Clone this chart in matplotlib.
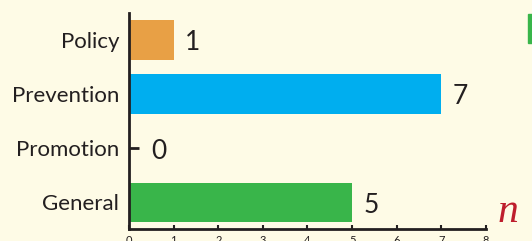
import matplotlib
matplotlib.use("Agg")
import matplotlib.pyplot as plt
from matplotlib.lines import TICKRIGHT

categories = ["General", "Promotion", "Prevention", "Policy"]
counts = [5, 0, 7, 1]
bar_colors = ["#39B54A", "#1B3F6B", "#00AEEF", "#E8A045"]
x_ticks = [0, 1, 2, 3, 4, 5, 6, 7, 8]

BG = "#FEFBE6"
INK = "#231F20"

plt.rcParams["font.family"] = ["Lato", "DejaVu Sans"]

fig = plt.figure(figsize=(5.32, 2.41), dpi=100)
fig.patch.set_facecolor(BG)
ax = fig.add_axes([0.2425, 0.0498, 0.671, 0.8962])
ax.set_facecolor(BG)

ypos = list(range(len(categories)))
ax.barh(ypos, counts, height=0.73, color=bar_colors, zorder=2)

for y, v in zip(ypos, counts):
    off = 0.5 if v == 0 else 0.25
    ax.text(v + off, y - 0.05, str(v), ha="left", va="center", fontsize=19, color=INK)
    if v == 0:
        ax.plot(v, y, marker=TICKRIGHT, markersize=7, markeredgewidth=2, color=INK)

ax.set_xlim(0, 8)
ax.set_ylim(-0.49, 3.5)
ax.set_xticks(x_ticks)
ax.set_xticklabels([str(t) for t in x_ticks], fontsize=8, color=INK)
ax.set_yticks(ypos)
ax.set_yticklabels(categories, fontsize=16, color=INK)

for s in ["top", "right"]:
    ax.spines[s].set_visible(False)
for s in ["left", "bottom"]:
    ax.spines[s].set_color(INK)
    ax.spines[s].set_linewidth(2)
ax.tick_params(axis="y", length=0, pad=7)
ax.tick_params(axis="x", direction="in", length=3, width=1.5, color=INK, pad=4)

# cropped legend swatch and stray glyph at the right edge
fig.patches.append(plt.Rectangle((528 / 532, 1 - 43 / 241), 0.02, 29 / 241,
                                 transform=fig.transFigure, color="#39B54A"))
fig.text(498 / 532, 1 - 212 / 241, "n", fontsize=30, style="italic", family="Liberation Serif",
         color="#BE1E2D", va="center", ha="left")

fig.savefig("out.png", dpi=100, facecolor=BG)
